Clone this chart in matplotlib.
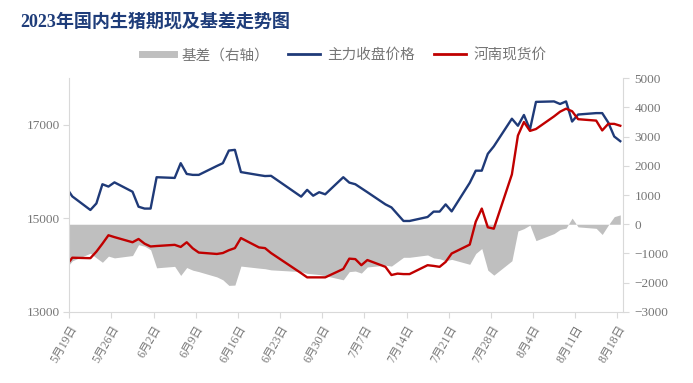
import matplotlib
matplotlib.use('Agg')
import matplotlib.pyplot as plt
import matplotlib.dates as mdates
from matplotlib.lines import Line2D
import pandas as pd

plt.rcParams['font.family'] = ['Liberation Serif', 'Noto Sans CJK SC']

# 日期（交易日）
dates = ['2023-05-18', '2023-05-19', '2023-05-22', '2023-05-23', '2023-05-24', '2023-05-25', '2023-05-26',
         '2023-05-29', '2023-05-30', '2023-05-31',
         '2023-06-01', '2023-06-02', '2023-06-05', '2023-06-06', '2023-06-07', '2023-06-08', '2023-06-09',
         '2023-06-12', '2023-06-13', '2023-06-14', '2023-06-15', '2023-06-16', '2023-06-19', '2023-06-20',
         '2023-06-21', '2023-06-26', '2023-06-27', '2023-06-28', '2023-06-29', '2023-06-30',
         '2023-07-03', '2023-07-04', '2023-07-05', '2023-07-06', '2023-07-07', '2023-07-10', '2023-07-11',
         '2023-07-12', '2023-07-13', '2023-07-14', '2023-07-17', '2023-07-18', '2023-07-19', '2023-07-20',
         '2023-07-21', '2023-07-24', '2023-07-25', '2023-07-26', '2023-07-27', '2023-07-28', '2023-07-31',
         '2023-08-01', '2023-08-02', '2023-08-03', '2023-08-04', '2023-08-07', '2023-08-08', '2023-08-09',
         '2023-08-10', '2023-08-11', '2023-08-14', '2023-08-15', '2023-08-16', '2023-08-17', '2023-08-18']

# 主力收盘价格
futures = [15660, 15470, 15180, 15320, 15730, 15680, 15770, 15570, 15250, 15210,
           15210, 15880, 15865, 16180, 15950, 15930, 15930, 16120, 16180, 16450,
           16465, 15990, 15925, 15905, 15910, 15465, 15610, 15485, 15560, 15515,
           15880, 15765, 15730, 15645, 15560, 15300, 15235, 15090, 14945, 14945,
           15030, 15145, 15145, 15300, 15150, 15760, 16020, 16020, 16380, 16540, 17130,
           16980, 17210, 16900, 17490, 17500, 17445, 17500, 17070, 17220, 17250,
           17250, 17050, 16750, 16650]

# 河南现货价
spot = [13990, 14160, 14150, 14290, 14460, 14640, 14600, 14490, 14560, 14460,
        14400, 14410, 14435, 14390, 14490, 14360, 14270, 14240, 14260, 14320,
        14365, 14580, 14380, 14365, 14260, 13830, 13740, 13740, 13740, 13740,
        13920, 14140, 14130, 14000, 14110, 13965, 13790, 13820, 13810, 13810,
        14000, 13985, 13965, 14070, 14250, 14440, 14930, 15210, 14810, 14780, 15940,
        16770, 17060, 16870, 16910, 17180, 17280, 17345, 17290, 17120, 17090,
        16880, 17020, 17020, 16980]

# 基差（右轴）
basis = [-1500, -1250, -990, -1150, -1300, -1090, -1150, -1070, -700, -750,
         -870, -1490, -1440, -1750, -1480, -1570, -1620, -1800, -1900, -2090,
         -2080, -1430, -1500, -1520, -1560, -1620, -1680, -1700, -1720, -1760,
         -1900, -1620, -1600, -1670, -1460, -1400, -1430, -1280, -1130, -1130,
         -1050, -1150, -1180, -1250, -1200, -1370, -1000, -830, -1570, -1740, -1250,
         -230, -150, -30, -560, -320, -180, -130, 210, -90, -140,
         -350, -30, 260, 320]

tick_dates = ['2023-05-19', '2023-05-26', '2023-06-02', '2023-06-09', '2023-06-16', '2023-06-23',
              '2023-06-30', '2023-07-07', '2023-07-14', '2023-07-21', '2023-07-28', '2023-08-04',
              '2023-08-11', '2023-08-18']
tick_labels = ['5月19日', '5月26日', '6月2日', '6月9日', '6月16日', '6月23日', '6月30日',
               '7月7日', '7月14日', '7月21日', '7月28日', '8月4日', '8月11日', '8月18日']

navy = '#1F3A78'
red = '#C00000'
grey_txt = '#767676'
spine_c = '#D9D9D9'

x = mdates.date2num(pd.to_datetime(dates))
xt = mdates.date2num(pd.to_datetime(tick_dates))

fig = plt.figure(figsize=(6.93, 3.83), dpi=100)
ax = fig.add_axes([0.1, 0.1854, 0.7994, 0.6109])
ax2 = ax.twinx()

ax2.fill_between(x, basis, 0, color='#BFBFBF', lw=0)
ax.plot(x, futures, color=navy, lw=1.7, solid_joinstyle='round')
ax.plot(x, spot, color=red, lw=1.7, solid_joinstyle='round')

ax.set_zorder(ax2.get_zorder() + 1)
ax.patch.set_visible(False)

ax.set_xlim(xt[0] - 0.5, xt[-1] + 0.5)
ax.set_ylim(13000, 18000)
ax.set_yticks([13000, 15000, 17000])
ax2.set_ylim(-3000, 5000)
ax2.set_yticks(range(-3000, 5001, 1000))

ax.set_xticks(xt - 0.5)
ax.set_xticklabels(tick_labels, rotation=60, ha='right', va='top', rotation_mode='anchor')

for a in (ax, ax2):
    a.spines['top'].set_visible(False)
    for s in ('left', 'right', 'bottom'):
        a.spines[s].set_color(spine_c)
ax.spines['right'].set_visible(False)
ax2.spines['left'].set_visible(False)
ax2.spines['bottom'].set_visible(False)

ax.tick_params(axis='x', colors=spine_c, labelcolor=grey_txt, labelsize=8.5, length=4, pad=4)
ax.tick_params(axis='y', colors=spine_c, labelcolor=grey_txt, labelsize=9.5, length=4, pad=3)
ax2.tick_params(axis='y', colors=spine_c, labelcolor=grey_txt, labelsize=9.5, length=4, pad=4)

fig.text(0.029, 0.943, '2023年国内生猪期现及基差走势图', fontsize=13, fontweight='bold',
         color='#1F3D7A', va='center', ha='left')

handles = [Line2D([], [], color='#BFBFBF', lw=5),
           Line2D([], [], color=navy, lw=2),
           Line2D([], [], color=red, lw=2)]
leg = fig.legend(handles, ['基差（右轴）', '主力收盘价格', '河南现货价'], loc='center',
                 bbox_to_anchor=(0.497, 0.856), ncol=3, frameon=False, fontsize=10.5,
                 handlelength=2.2, handletextpad=0.5, columnspacing=1.3)
for t in leg.get_texts():
    t.set_color(grey_txt)

fig.savefig('out.png', dpi=100)
